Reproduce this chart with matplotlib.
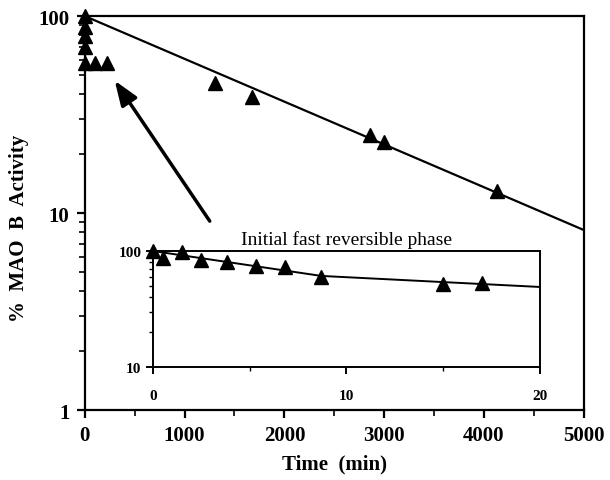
import numpy as np
import matplotlib
matplotlib.use('Agg')
import matplotlib.pyplot as plt
from matplotlib.ticker import LogLocator, MultipleLocator, FixedLocator, NullFormatter

plt.rcParams['font.family'] = ['Liberation Serif', 'DejaVu Serif']

# main panel: remaining activity vs time (min)
main_t = [0, 0, 0, 0, 0, 100, 220, 1300, 1680, 2860, 3000, 4130]
main_act = [100, 88, 79, 70, 58, 58, 58, 46, 39, 25, 23, 13]
fit_t = [0, 5000]
fit_act = [100, 8.2]

# inset: initial fast reversible phase (min)
inset_t = [0, 0.5, 1.5, 2.5, 3.8, 5.3, 6.8, 8.7, 15.0, 17.0]
inset_act = [100, 87, 98, 84, 80, 74, 73, 60, 52, 53]
inset_fit_t = [0, 8.7, 20]
inset_fit_act = [100, 61, 49]

bold = dict(fontweight='bold', fontsize=15)

fig = plt.figure(figsize=(6.1, 4.81), dpi=100)
ax = fig.add_axes([0.139, 0.1455, 0.818, 0.819])

ax.plot(fit_t, fit_act, color='k', lw=1.6)
ax.plot(main_t, main_act, '^', color='k', ms=10, clip_on=False)
ax.set_yscale('log')
ax.set_xlim(0, 5000)
ax.set_ylim(1, 100)
ax.set_yticks([1, 10, 100])
ax.set_yticklabels(['1', '10', '100'], **bold)
ax.yaxis.set_minor_locator(LogLocator(base=10, subs=np.arange(2, 10)))
ax.yaxis.set_minor_formatter(NullFormatter())
ax.set_xticks([0, 1000, 2000, 3000, 4000, 5000])
ax.set_xticklabels(['0', '1000', '2000', '3000', '4000', '5000'], **bold)
ax.xaxis.set_minor_locator(MultipleLocator(500))
ax.tick_params(which='major', direction='out', length=6, width=1.6, pad=5)
ax.tick_params(which='minor', direction='out', length=4, width=1.2)
ax.tick_params(right=False, top=False)
for sp in ax.spines.values():
    sp.set_linewidth(1.6)
ax.set_xlabel('Time  (min)', fontweight='bold', fontsize=15, labelpad=6)
ax.set_ylabel('%  MAO  B  Activity', fontweight='bold', fontsize=15)
ax.yaxis.set_label_coords(-0.112, 0.464)

ax.annotate('', xy=(300, 47), xytext=(1252, 9.1),
            arrowprops=dict(arrowstyle='-|>,head_length=0.75,head_width=0.28',
                            color='k', lw=2.5, mutation_scale=20,
                            shrinkA=0, shrinkB=0))

ins = fig.add_axes([0.251, 0.235, 0.634, 0.241])
ins.plot(inset_fit_t, inset_fit_act, color='k', lw=1.4)
ins.plot(inset_t, inset_act, '^', color='k', ms=10, clip_on=False)
ins.set_yscale('log')
ins.set_xlim(0, 20)
ins.set_ylim(10, 100)
ins.set_yticks([10, 100])
ins.set_yticklabels(['10', '100'], fontweight='bold', fontsize=11)
ins.yaxis.set_minor_locator(LogLocator(base=10, subs=np.arange(2, 10)))
ins.yaxis.set_minor_formatter(NullFormatter())
ins.set_xticks([0, 10, 20])
ins.set_xticklabels(['0', '10', '20'], fontweight='bold', fontsize=11)
ins.xaxis.set_minor_locator(FixedLocator([5, 15]))
ins.tick_params(which='major', direction='out', length=5, width=1.4)
ins.tick_params(axis='x', which='major', pad=11)
ins.tick_params(which='minor', direction='out', length=3, width=1.0)
ins.tick_params(right=False, top=False)
for sp in ins.spines.values():
    sp.set_linewidth(1.4)
ins.set_title('Initial fast reversible phase', fontsize=14, pad=5)

fig.savefig('out.png', dpi=100)
